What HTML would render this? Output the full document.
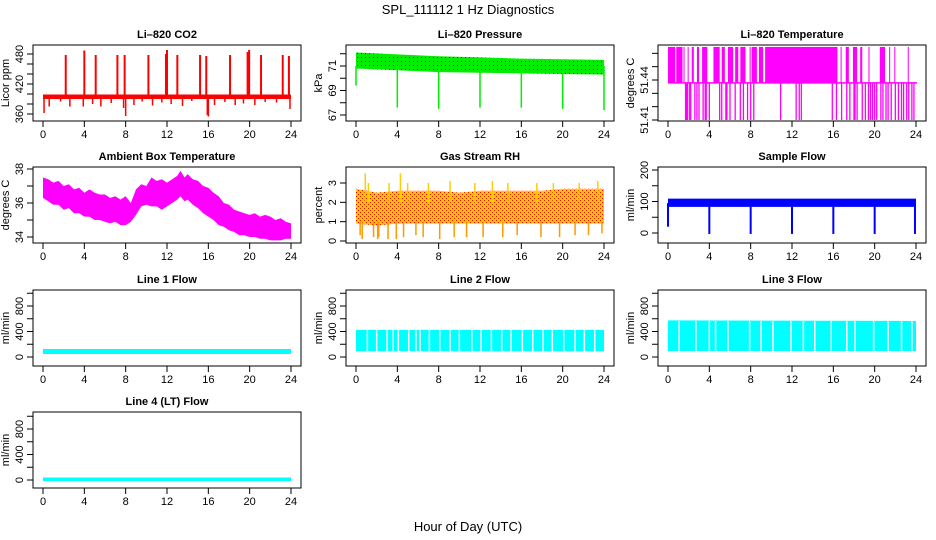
<!DOCTYPE html>
<html><head><meta charset="utf-8">
<style>
html,body{margin:0;padding:0;background:#fff;}
svg{display:block;font-family:"Liberation Sans",Arial,sans-serif;}
</style></head>
<body>
<svg id="chart" width="936" height="540" viewBox="0 0 936 540">
<defs>
<pattern id="rhpat" width="4" height="4" patternUnits="userSpaceOnUse">
<rect width="4" height="4" fill="#ffcc00"/><rect x="0" y="0" width="1" height="1" fill="#ff0000"/><rect x="2" y="2" width="1" height="1" fill="#ff0000"/>
</pattern>
<pattern id="prpat" width="4" height="4" patternUnits="userSpaceOnUse">
<rect width="4" height="4" fill="#00ee00"/><rect x="1" y="1" width="1" height="1" fill="#006600"/>
</pattern>
</defs>
<text x="468" y="14" text-anchor="middle" font-size="13">SPL_111112  1 Hz Diagnostics</text>
<text x="468" y="531" text-anchor="middle" font-size="13">Hour of Day (UTC)</text>
</svg>
<script>
// ---- data arrays ----
const hourTicks=[0,4,8,12,16,20,24];
// CO2
const co2Hours=[0,24];
const co2Upper=[399,399];
const co2Lower=[390,390];
const co2SpikeHours=[2.2,4.0,5.1,7.2,7.9,10.2,11.9,12.0,13.0,15.2,15.8,18.1,19.8,19.95,21.1,23.2,23.8];
const co2SpikeValues=[478,487,478,478,478,478,480,488,478,478,476,478,484,488,478,478,476];
const co2DipHours=[0.1,0.6,1.7,2.6,3.9,4.8,5.6,6.6,7.8,8.0,8.8,9.6,10.6,11.5,12.4,13.5,14.4,15.9,16.0,16.6,17.6,18.6,19.4,20.5,21.5,22.6,23.9];
const co2DipValues=[362,375,385,375,375,380,375,382,372,356,378,385,377,383,380,376,386,358,355,378,384,378,381,378,384,383,370];
// Pressure
const prHours=[0,4,8,12,16,20,24];
const prUpper=[72.1,71.95,71.8,71.7,71.6,71.55,71.5];
const prLower=[70.8,70.65,70.5,70.45,70.4,70.35,70.3];
const prDipHours=[0,4,8,12,16,20,24];
const prDipValues=[69.4,67.6,67.5,67.6,67.6,67.5,67.4];
// Li-820 temperature
const tLevels=[51.4648,51.4378,51.41];
const tHighStart=[0,0.8,1.5,1.9,2.3,2.8,3.3,4.4,5.2,5.8,6.5,7.0,7.9,8.1,8.8,9.4,16.7,17.2,17.9,18.6,19.4,20.5,21.4,21.9,23.2];
const tHighEnd=[0.7,1.4,1.6,2.0,2.5,3.0,3.8,5.0,5.5,6.3,6.8,7.5,8.0,8.6,9.2,16.4,16.8,17.5,18.3,18.8,19.5,21.0,21.5,22.0,23.3];
const tLowHours=[1.7,1.8,1.9,2.1,2.2,2.6,2.8,3.0,3.4,3.6,3.7,4.0,5.0,5.2,5.6,5.7,6.0,6.5,7.0,7.3,7.7,8.0,8.3,10.9,12.4,12.7,12.9,15.9,16.3,16.8,17.3,17.6,18.0,18.1,18.3,18.8,19.1,19.4,19.6,19.8,20.0,20.2,20.6,20.8,21.1,21.3,21.6,22.0,22.3,22.6,22.8,23.1,23.3,23.6,23.8];
// Ambient
const ambHours=[0,0.5,1,1.5,2,2.5,3,3.5,4,4.5,5,5.5,6,6.5,7,7.5,8,8.5,9,9.5,10,10.5,11,11.5,12,12.5,13,13.3,13.7,14,14.5,15,15.5,16,16.5,17,17.5,18,18.5,19,19.5,20,20.5,21,21.5,22,22.5,23,23.5,24];
const ambUpper=[37.5,37.4,37.2,37.3,37.0,37.1,36.8,36.9,36.6,36.8,36.6,36.5,36.5,36.3,36.4,36.2,36.4,36.0,36.8,37.1,37.0,37.5,37.3,37.4,37.2,37.4,37.6,37.9,37.5,37.7,37.4,37.3,37.0,36.9,36.6,36.4,36.0,35.9,35.6,35.5,35.4,35.3,35.4,35.2,35.3,35.2,35.0,35.1,34.9,34.8];
const ambLower=[36.3,36.1,35.9,35.9,35.6,35.7,35.4,35.4,35.2,35.2,35.0,35.0,34.9,34.8,34.9,34.7,34.7,34.9,35.3,35.8,35.9,35.8,35.8,35.6,35.8,36.0,36.2,36.4,36.1,36.2,35.9,35.7,35.4,35.2,35.0,34.7,34.6,34.4,34.3,34.1,34.1,34.0,34.0,33.9,33.9,33.8,33.8,33.8,33.9,33.9];
// RH
const rhHours=[0,2,4,6,8,10,12,14,16,18,20,22,24];
const rhUpper=[2.7,2.5,2.6,2.6,2.6,2.5,2.6,2.6,2.6,2.6,2.7,2.7,2.7];
const rhLower=[0.9,0.8,0.9,0.9,0.9,0.9,0.9,0.9,0.9,0.9,0.9,0.9,0.9];
const rhSpikeHours=[0.9,1.2,3.2,4.3,5.0,7.0,9.1,11.5,13.2,14.7,17.5,19.1,21.6,23.4];
const rhSpikeValues=[3.5,3.0,3.0,3.5,3.0,3.0,3.1,3.0,3.1,3.0,3.0,3.0,3.0,3.1];
const rhDipHours=[0.4,0.6,1.7,2.1,2.2,3.1,3.9,4.6,5.8,6.5,8.1,9.5,10.7,12.3,14.2,15.6,17.9,19.7,21.2,22.5,23.8];
const rhDipValues=[0.3,0.1,0.2,0.1,0.2,0.1,0.1,0.2,0.3,0.2,0.1,0.2,0.2,0.2,0.2,0.3,0.2,0.2,0.3,0.3,0.4];
// Sample flow
const sfHours=[0,24];
const sfUpper=[109,109];
const sfLower=[83,83];
const sfDipHours=[0,4,8,12,16,20,23.9];
const sfDipValues=[20,-3,-3,-3,-3,-3,-3];
// Line flows
const l1Hours=[0,24];const l1Upper=[125,125];const l1Lower=[48,48];
const l2Hours=[0,24];const l2Upper=[425,425];const l2Lower=[90,90];
const l2GapHours=[1.1,2.0,3.0,3.6,4.1,5.1,5.8,6.2,7.1,8.1,9.1,10.0,11.2,12.1,13.1,14.1,15.0,16.1,17.1,18.1,19.0,20.1,21.2,22.1,23.1];
const l3Hours=[0,24];const l3Upper=[575,565];const l3Lower=[95,95];
const l3GapHours=[1.07,2.7,4.0,4.6,5.8,7.9,9.0,10.15,11.9,13.1,14.2,15.8,17.3,18.1,19.9,21.3,22.6,23.6];
const l4Hours=[0,24];const l4Upper=[40,40];const l4Lower=[-15,-15];

// ---- layout ----
const NS="http://www.w3.org/2000/svg";
const svg=document.getElementById('chart');
const cols=[33,346,658], rows=[45,167,290,412], PW=268, PH=76;
function mk(tag,attrs,parent){const e=document.createElementNS(NS,tag);for(const k in attrs)e.setAttribute(k,attrs[k]);(parent||svg).appendChild(e);return e;}

function makePanel(col,row,title,ylab,yTicks,yLabels,v0,p0,k,name){
  const L=cols[col],T=rows[row];
  const g=mk('g',{});
  
  
  const xs=h=>L+10+h*248/24;
  const ys=v=>T+p0+(v-v0)*k;
  const t=mk('text',{x:L+PW/2,y:T-7,'text-anchor':'middle','font-size':'11','font-weight':'bold'},g);
  t.textContent=title;
  
  
  const xa=mk('g',{},g);
  
  
  hourTicks.forEach(h=>{
    mk('line',{x1:xs(h),x2:xs(h),y1:T+PH,y2:T+PH+6,stroke:'#000'},xa);
    const tx=mk('text',{x:xs(h),y:T+PH+17,'text-anchor':'middle','font-size':'11'},xa);tx.textContent=h;
  });
  const ya=mk('g',{},g);
  
  
  yTicks.forEach(v=>{mk('line',{x1:L-6,x2:L,y1:ys(v),y2:ys(v),stroke:'#000'},ya);});
  yLabels.forEach(v=>{const y=ys(v);const tx=mk('text',{x:L-10,y:y,'text-anchor':'middle','font-size':'11',transform:`rotate(-90 ${L-10} ${y})`},ya);tx.textContent=v;});
  const yl=mk('text',{x:L-24,y:T+PH/2,'text-anchor':'middle','font-size':'11',transform:`rotate(-90 ${L-24} ${T+PH/2})`},g);
  yl.textContent=ylab;
  
  
  const plot=mk('g',{},g);
  
  
  const box=mk('rect',{x:L,y:T,width:PW,height:PH,fill:'none',stroke:'#000'},g);
  
  
  return {xs,ys,plot};
}
function band(p,hours,up,lo,fill){
  let pts=hours.map((h,i)=>p.xs(h)+','+p.ys(up[i]));
  for(let i=hours.length-1;i>=0;i--)pts.push(p.xs(hours[i])+','+p.ys(lo[i]));
  const e=mk('polygon',{points:pts.join(' '),fill:fill},p.plot);
  
  
}
function spikes(p,hours,vals,base,color,w){
  hours.forEach((h,i)=>{
    const e=mk('line',{x1:p.xs(h),x2:p.xs(h),y1:p.ys(base),y2:p.ys(vals[i]),stroke:color,'stroke-width':w},p.plot);
    
    
  });
}
function gaps(p,hours,up,lo){
  hours.forEach(h=>{
    const e=mk('line',{x1:p.xs(h),x2:p.xs(h),y1:p.ys(up),y2:p.ys(lo),stroke:'#fff','stroke-width':1.5},p.plot);
    
    
  });
}

// CO2
let p=makePanel(0,0,'Li–820 CO2','Licor ppm',[360,380,400,420,440,460,480],[360,420,480],480,9,-0.5,'co2');
band(p,co2Hours,co2Upper,co2Lower,'#ff0000');
spikes(p,co2SpikeHours,co2SpikeValues,395,'#ff0000',2);
spikes(p,co2DipHours,co2DipValues,395,'#ff0000',1.5);
// Pressure
p=makePanel(1,0,'Li–820 Pressure','kPa',[67,68,69,70,71,72],[67,69,71],71,21,-12.25,'pressure');
band(p,prHours,prUpper,prLower,'url(#prpat)');
spikes(p,prDipHours,prDipValues,71,'#00ee00',1.5);
// Temperature
p=makePanel(2,0,'Li–820 Temperature','degrees C',[51.41,51.42,51.43,51.44,51.45,51.46],[51.41,51.44],51.44,35,-1333,'li820-temp');
tHighStart.forEach((s,i)=>{
  const e=mk('rect',{x:p.xs(s),y:p.ys(tLevels[0]),width:Math.max(1,p.xs(tHighEnd[i])-p.xs(s)),height:p.ys(tLevels[1])-p.ys(tLevels[0]),fill:'#ff00ff'},p.plot);
  
  
});
{const e=mk('line',{x1:p.xs(0),x2:p.xs(24.1),y1:p.ys(tLevels[1]),y2:p.ys(tLevels[1]),stroke:'#ff00ff','stroke-width':1.5},p.plot);

}
spikes(p,tLowHours,tLowHours.map(()=>tLevels[2]),tLevels[1],'#ff00ff',1.3);
// Ambient
p=makePanel(0,1,'Ambient Box Temperature','degrees C',[34,35,36,37,38],[34,36,38],38,2,-17,'ambient-temp');
band(p,ambHours,ambUpper,ambLower,'#ff00ff');
// RH
p=makePanel(1,1,'Gas Stream RH','percent',[0,1,2,3],[0,1,2,3],3,16,-19.33,'rh');
band(p,rhHours,rhUpper,rhLower,'url(#rhpat)');
spikes(p,rhSpikeHours,rhSpikeValues,2,'#ffcc00',1.5);
spikes(p,rhDipHours,rhDipValues,1,'#ff9900',1.5);
// Sample flow
p=makePanel(2,1,'Sample Flow','ml/min',[0,50,100,150,200],[0,100,200],200,3,-0.315,'sample-flow');
band(p,sfHours,sfUpper,sfLower,'#0000ff');
spikes(p,sfDipHours,sfDipValues,95,'#0000ff',2);
// Lines
const lt=[0,200,400,600,800,1000], ll=[0,400,800];
p=makePanel(0,2,'Line 1 Flow','ml/min',lt,ll,0,67,-0.06375,'line1-flow');
band(p,l1Hours,l1Upper,l1Lower,'#00ffff');
p=makePanel(1,2,'Line 2 Flow','ml/min',lt,ll,0,67,-0.06375,'line2-flow');
band(p,l2Hours,l2Upper,l2Lower,'#00ffff');
gaps(p,l2GapHours,l2Upper[0]-5,l2Lower[0]+5);
p=makePanel(2,2,'Line 3 Flow','ml/min',lt,ll,0,67,-0.06375,'line3-flow');
band(p,l3Hours,l3Upper,l3Lower,'#00ffff');
gaps(p,l3GapHours,l3Upper[1]-5,l3Lower[0]+5);
p=makePanel(0,3,'Line 4 (LT) Flow','ml/min',lt,ll,0,68,-0.06375,'line4-flow');
band(p,l4Hours,l4Upper,l4Lower,'#00ffff');
</script>
</body></html>
